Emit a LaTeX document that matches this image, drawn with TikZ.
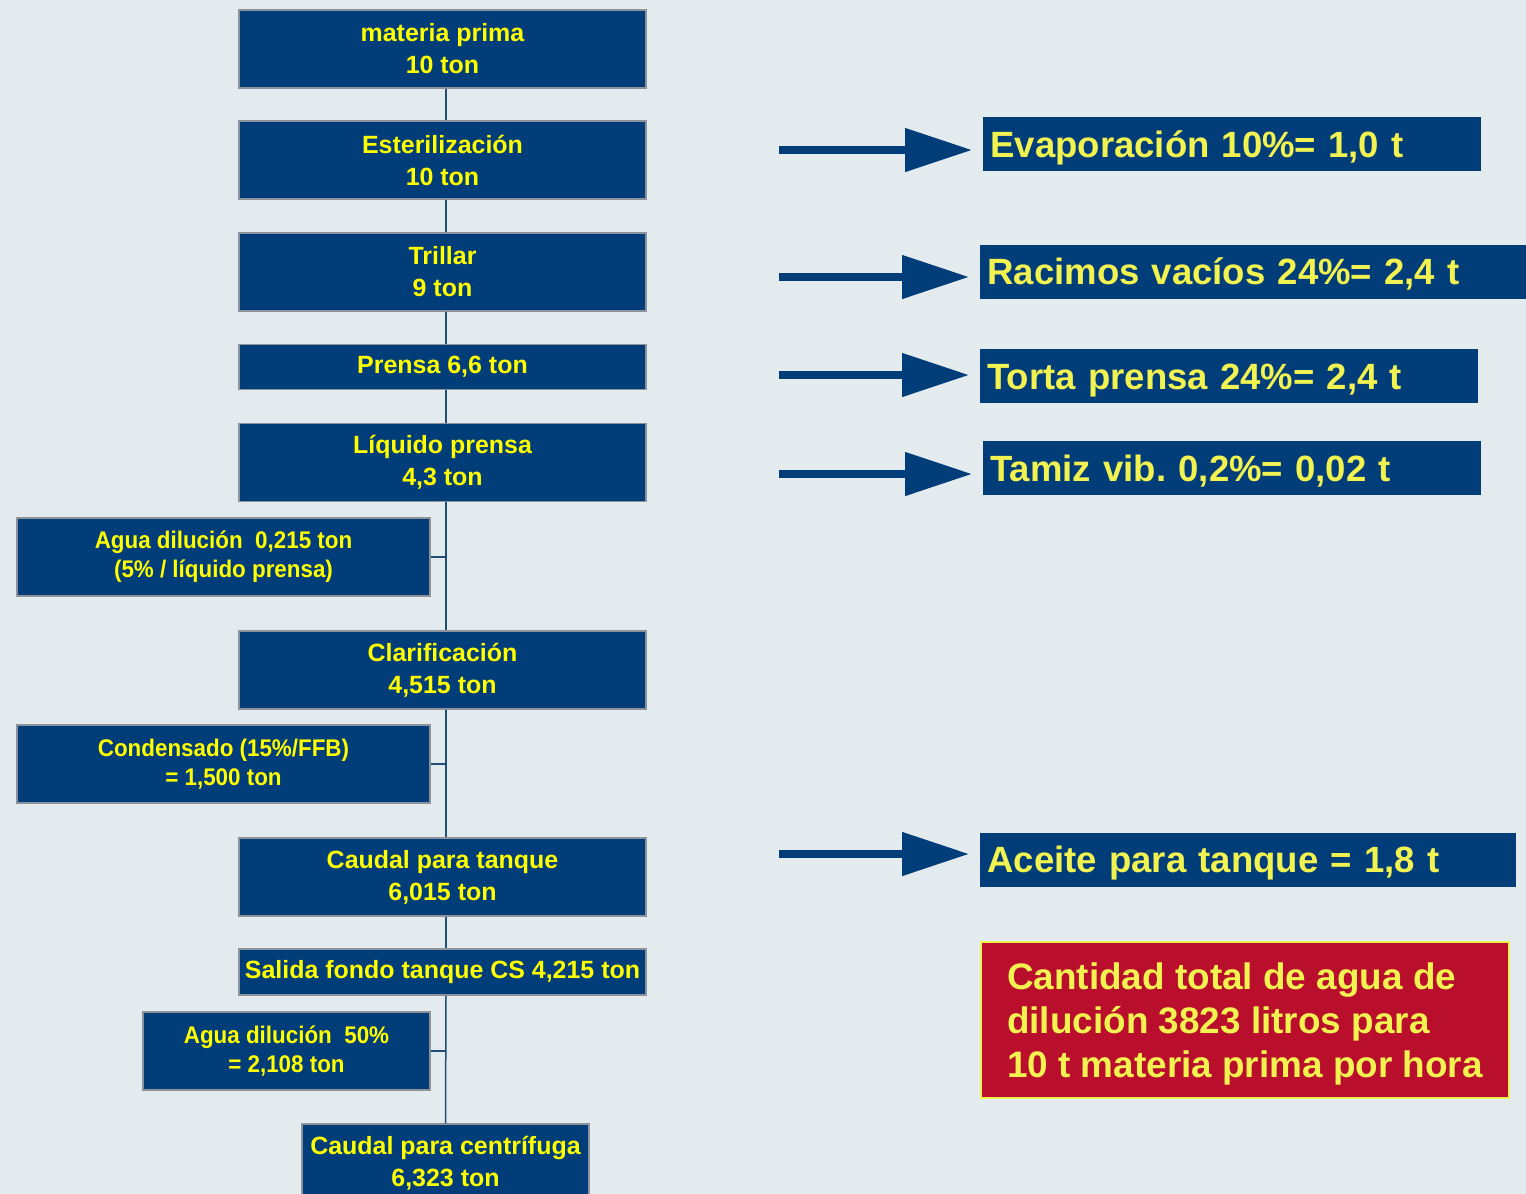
\documentclass[tikz,border=0pt]{standalone}
\usepackage{fontspec}
\setmainfont{Liberation Sans}
\newfontfamily\angosta{Liberation Sans}[FakeStretch=0.93]
\usetikzlibrary{arrows.meta}
\definecolor{fondo}{HTML}{E4EBEF}
\definecolor{azulcaja}{HTML}{003D79}
\definecolor{bordegris}{HTML}{8C939C}
\definecolor{lineaazul}{HTML}{1F4E79}
\definecolor{amarillo}{HTML}{FFFF00}
\definecolor{amarillopalido}{HTML}{F2F250}
\definecolor{rojo}{HTML}{BA0E2D}

\begin{document}
\begin{tikzpicture}[x=0.02cm, y=-0.02cm,
        caja/.style={draw=bordegris, line width=0.03cm, fill=azulcaja, text=amarillo, align=center,
                inner sep=0pt, minimum width=8.14cm, minimum height=1.56cm,
                font=\bfseries\fontsize{14.2}{18.2}\selectfont},
        lateral/.style={caja, minimum width=8.26cm, font=\angosta\bfseries\fontsize{13.7}{16.5}\selectfont},
        resultado/.style={fill=azulcaja, text=amarillopalido, anchor=west, align=left,
                inner xsep=0.14cm, inner ysep=0pt, minimum height=1.08cm, text height=15pt, text depth=0pt,
                font=\bfseries\fontsize{20.8}{25}\selectfont},
        linea/.style={draw=lineaazul, line width=0.03cm},
        flecha/.style={draw=azulcaja, line width=0.16cm, -{Triangle[length=1.34cm, width=0.84cm]}, shorten >=0.22cm}]
        \fill[fondo] (0,0) rectangle (1526,1194);
        \useasboundingbox (0,0) rectangle (1526,1194);
        % columna principal
        \node[caja] (mp) at (442.5,49) {materia prima\\10 ton};
        \node[caja] (est) at (442.5,160) {Esterilización\\10 ton};
        \node[caja] (tri) at (442.5,272) {Trillar\\9 ton};
        \node[caja, minimum height=0.9cm] (pre) at (442.5,367) {Prensa 6,6 ton};
        \node[caja] (liq) at (442.5,462.5) {Líquido prensa\\4,3 ton};
        \node[lateral] (agua1) at (223.5,557) {Agua dilución\ \ 0,215 ton\\(5\% / líquido prensa)};
        \node[caja] (cla) at (442.5,670) {Clarificación\\4,515 ton};
        \node[lateral] (cond) at (223.5,764) {Condensado (15\%/FFB)\\= 1,500 ton};
        \node[caja] (cau) at (442.5,877) {Caudal para tanque\\6,015 ton};
        \node[caja, minimum height=0.92cm] (sal) at (442.5,972) {Salida fondo tanque CS 4,215 ton};
        \node[lateral, minimum width=5.74cm] (agua2) at (286.5,1051) {Agua dilución\ \ 50\%\\= 2,108 ton};
        \node[caja, minimum width=5.74cm] (cen) at (445.5,1163) {Caudal para centrífuga\\6,323 ton};
        \draw[linea] ([xshift=0.07cm]mp.south) -- ([xshift=0.07cm]est.north);
        \draw[linea] ([xshift=0.07cm]est.south) -- ([xshift=0.07cm]tri.north);
        \draw[linea] ([xshift=0.07cm]tri.south) -- ([xshift=0.07cm]pre.north);
        \draw[linea] ([xshift=0.07cm]pre.south) -- ([xshift=0.07cm]liq.north);
        \draw[linea] ([xshift=0.07cm]liq.south) -- ([xshift=0.07cm]cla.north);
        \draw[linea] ([xshift=0.07cm]cla.south) -- ([xshift=0.07cm]cau.north);
        \draw[linea] ([xshift=0.07cm]cau.south) -- ([xshift=0.07cm]sal.north);
        \draw[linea] ([xshift=0.07cm]sal.south) -- (cen.north);
        \draw[linea] (agua1.east) -- (agua1.east -| cen.north);
        \draw[linea] (cond.east) -- (cond.east -| cen.north);
        \draw[linea] (agua2.east) -- (agua2.east -| cen.north);
        % salidas
        \node[resultado, text width=9.68cm] (evap) at (983,144) {Evaporación 10\%= 1,0 t};
        \node[resultado, text width=10.64cm] (rac) at (980,271.5) {Racimos vacíos 24\%= 2,4 t};
        \node[resultado, text width=9.68cm] (tor) at (980,376) {Torta prensa 24\%= 2,4 t};
        \node[resultado, text width=9.68cm] (tam) at (983,468) {Tamiz vib.\ 0,2\%= 0,02 t};
        \node[resultado, text width=10.44cm] (ace) at (980,859.5) {Aceite para tanque = 1,8 t};
        \node[fill=rojo, draw=amarillopalido, line width=0.04cm, text=amarillopalido, align=left, text depth=0pt,
                minimum width=10.56cm, minimum height=3.12cm, font=\bfseries\fontsize{21}{25}\selectfont]
                (total) at (1245,1020) {Cantidad total de agua de\\dilución 3823 litros para\\10 t materia prima por hora};
        \coordinate (f1) at (779,150);
        \coordinate (f2) at (779,277);
        \coordinate (f3) at (779,375);
        \coordinate (f4) at (779,474);
        \coordinate (f5) at (779,854);
        \draw[flecha] (f1) -- (f1 -| evap.west);
        \draw[flecha] (f2) -- (f2 -| rac.west);
        \draw[flecha] (f3) -- (f3 -| tor.west);
        \draw[flecha] (f4) -- (f4 -| tam.west);
        \draw[flecha] (f5) -- (f5 -| ace.west);
\end{tikzpicture}
\end{document}
